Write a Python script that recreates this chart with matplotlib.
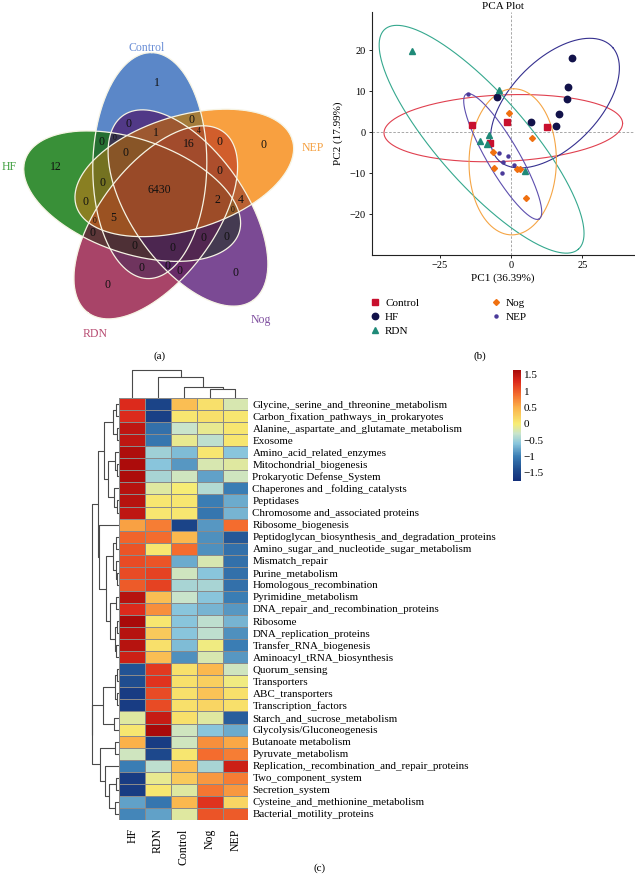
import numpy as np
import matplotlib
matplotlib.use('Agg')
import matplotlib.pyplot as plt
from matplotlib.colors import LinearSegmentedColormap, Normalize, to_rgb
from matplotlib.cm import ScalarMappable
from matplotlib.lines import Line2D

plt.rcParams['font.family'] = ['Liberation Serif', 'DejaVu Serif']
plt.rcParams['axes.unicode_minus'] = True

# ---------------- data ----------------
venn_sets = ['Control', 'HF', 'RDN', 'Nog', 'NEP']
venn_fill = ['#5b87c9', '#3a9038', '#a84468', '#7b4a95', '#f8a040']
venn_text_col = ['#6b8fd6', '#3f9f3f', '#b84c72', '#8050a0', '#f5a040']
venn_counts = {
    'Control': 1, 'HF': 12,
    'Control&HF&RDN&Nog&NEP': 6430,
    'Control&RDN&Nog&NEP': 16,
    'Control&HF&RDN&NEP': 5,
    'HF&RDN&Nog&NEP': 2,
    'Control&Nog&NEP': 1,
    'Control&RDN&NEP': 4,
    'Nog&NEP': 4,
}

groups = ['Control', 'HF', 'RDN', 'Nog', 'NEP']
ctrl_pc1 = [-13.8, -1.5, 12.5, -7.4]
ctrl_pc2 = [1.8, 2.4, 1.2, -2.7]
hf_pc1 = [21.3, 20.1, 19.5, 16.9, 15.7, 7.0, -5.0]
hf_pc2 = [18.0, 11.1, 8.1, 4.4, 1.5, 2.4, 8.5]
rdn_pc1 = [-34.8, -4.1, -7.6, -10.9, -8.5, 4.9]
rdn_pc2 = [19.7, 10.3, -0.7, -2.1, -2.8, -9.4]
nog_pc1 = [-0.6, 7.2, -6.4, -5.8, 2.2, 3.2, 5.1]
nog_pc2 = [4.8, -1.3, -4.7, -8.6, -8.9, -9.0, -15.9]
nep_pc1 = [-15.2, -4.2, -1.2, -2.7, 1.2, -3.3]
nep_pc2 = [9.3, -5.1, -5.7, -7.3, -8.0, -10.0]
# confidence ellipses: centre, two conjugate semi-axis vectors (data units)
ell_centre = {'Control': (-2.7, 1.0), 'HF': (15.4, 7.1), 'RDN': (-10.3, -1.7),
              'Nog': (0.6, -7.2), 'NEP': (-2.9, -5.9)}
ell_major = {'Control': (41.8, 1.2), 'HF': (20.3, 13.5), 'RDN': (33.9, -26.8),
             'Nog': (0.3, 17.8), 'NEP': (12.8, -15.2)}
ell_minor = {'Control': (-0.2, 8.1), 'HF': (9.9, -8.2), 'RDN': (11.8, 7.2),
             'Nog': (15.3, 0.0), 'NEP': (4.8, 2.0)}

pathways = [
    'Glycine,_serine_and_threonine_metabolism', 'Carbon_fixation_pathways_in_prokaryotes',
    'Alanine,_aspartate_and_glutamate_metabolism', 'Exosome', 'Amino_acid_related_enzymes',
    'Mitochondrial_biogenesis', 'Prokaryotic Defense_System', 'Chaperones and _folding_catalysts',
    'Peptidases', 'Chromosome and_associated proteins', 'Ribosome_biogenesis',
    'Peptidoglycan_biosynthesis_and_degradation_proteins',
    'Amino_sugar_and_nucleotide_sugar_metabolism', 'Mismatch_repair', 'Purine_metabolism',
    'Homologous_recombination', 'Pyrimidine_metabolism', 'DNA_repair_and_recombination_proteins',
    'Ribosome', 'DNA_replication_proteins', 'Transfer_RNA_biogenesis',
    'Aminoacyl_tRNA_biosynthesis', 'Quorum_sensing', 'Transporters', 'ABC_transporters',
    'Transcription_factors', 'Starch_and_sucrose_metabolism', 'Glycolysis/Gluconeogenesis',
    'Butanoate metabolism', 'Pyruvate_metabolism',
    'Replication,_recombination_and_repair_proteins', 'Two_component_system',
    'Secretion_system', 'Cysteine_and_methionine_metabolism', 'Bacterial_motility_proteins']
heat_cols = ['HF', 'RDN', 'Control', 'Nog', 'NEP']
hf_z = [1.30, 1.30, 1.50, 1.50, 1.60, 1.62, 1.62, 1.55, 1.55, 1.50, 0.60, 0.95, 1.05, 1.10,
        1.10, 1.00, 1.55, 1.30, 1.65, 1.55, 1.55, 1.40, -1.35, -1.40, -1.60, -1.60, -0.15,
        0.05, 0.50, -0.25, -1.00, -1.60, -1.60, -0.80, -0.95]
rdn_z = [-1.50, -1.55, -1.10, -1.05, -0.50, -0.60, -0.45, -0.15, 0.05, 0.05, 0.80, 0.90, 0.05,
         1.05, 1.15, 1.15, 0.40, 0.70, 0.05, 0.30, 0.10, 0.40, 1.20, 1.25, 1.10, 1.10, 1.45,
         1.65, -1.60, -1.45, -0.35, -0.10, 0.05, -1.05, -0.80]
ctrl_z = [0.40, 0.05, -0.30, -0.10, -0.65, -0.85, -0.25, 0.00, 0.05, 0.05, -1.50, 0.45, 0.90,
          -0.75, -0.25, -0.45, -0.30, -0.60, -0.60, -0.60, -0.65, -0.90, 0.10, 0.10, 0.10, 0.10,
          0.10, -0.25, -0.25, 0.05, 0.40, 0.30, -0.15, 0.45, -0.15]
nog_z = [0.10, 0.10, -0.10, -0.35, 0.05, -0.20, -0.80, -0.40, -1.00, -1.05, -0.85, -0.90, -0.90,
         -0.20, -0.60, -0.45, -0.60, -0.70, -0.35, -0.35, -0.05, -0.20, 0.45, 0.25, 0.35, 0.20,
         -0.15, -0.60, 0.70, 0.90, -0.45, 0.65, 0.85, 1.25, 1.05]
nep_z = [-0.20, 0.05, 0.05, 0.05, -0.60, -0.15, -0.25, -1.00, -0.75, -0.70, 0.90, -1.30, -1.10,
         -1.10, -1.10, -1.10, -1.00, -0.85, -0.70, -0.90, -1.00, -0.85, -0.25, -0.05, 0.10, 0.10,
         -1.25, -0.75, 0.55, 0.80, 1.40, 0.80, 0.65, 0.20, 1.00]
# dendrograms: (left, right, merge height); leaves are indices
row_tree = (
    ((((0, 1, 3.0), (2, 3, 2.5), 6.0),
      ((4, (5, 6, 2.5), 4.5), (7, (8, 9, 2.5), 5.5), 11.0), 15.0),
     (10, ((((11, 12, 3.0), (13, (14, 15, 2.0), 3.5), 6.0),
            ((16, 17, 3.5), ((18, 19, 2.5), (20, 21, 3.0), 4.0), 9.0), 13.0)), 20.0),
     21.3),
    ((((22, 23, 2.5), (24, 25, 2.0), 4.0), (26, 27, 5.0), 16.3),
     ((28, 29, 4.0), (30, ((31, 32, 3.0), (33, 34, 4.0), 10.0), 14.0), 19.7),
     27.0),
    27.3)
col_tree = (0, (1, (2, (3, 4, 9.0), 11.0), 21.0), 28.0)

# ---------------- figure ----------------
W, H = 635, 882
fig = plt.figure(figsize=(W / 100, H / 100), dpi=100)


def px_axes(x0, y0, x1, y1):
    return fig.add_axes([x0 / W, 1 - y1 / H, (x1 - x0) / W, (y1 - y0) / H])


# ---------- (a) Venn ----------
axv = px_axes(0, 0, 320, 360)
axv.set_xlim(0, 320)
axv.set_ylim(360, 0)
axv.axis('off')
O = np.array([162.0, 193.0])
set_dir = [90, 162, 234, 306, 18]
A_AX, B_AX, OFF, OFF_ANG = 113.0, 57.0, 30.0, 24.0
res = 2
vx0, vx1, vy0, vy1 = 0, 320, 20, 345
xs = np.arange(vx0, vx1, 1 / res) + 0.5 / res
ys = np.arange(vy0, vy1, 1 / res) + 0.5 / res
GX, GY = np.meshgrid(xs, ys)
code = np.zeros(GX.shape, int)
logt = np.zeros(GX.shape + (3,))
outlines = []
for i, th in enumerate(set_dir):
    ca = np.deg2rad(th + OFF_ANG)
    cx = O[0] + OFF * np.cos(ca)
    cy = O[1] - OFF * np.sin(ca)
    phi = np.deg2rad(th - 1)
    rx = GX - cx
    ry = -(GY - cy)
    lu = rx * np.cos(phi) + ry * np.sin(phi)
    lv = -rx * np.sin(phi) + ry * np.cos(phi)
    ins = (lu / A_AX) ** 2 + (lv / B_AX) ** 2 <= 1
    code |= ins.astype(int) << i
    lsingle = np.log(np.array(to_rgb(venn_fill[i])))
    logt = np.where(ins[..., None], lsingle + 0.4 * logt, logt)
    t = np.linspace(0, 2 * np.pi, 400)
    ex = cx + A_AX * np.cos(t) * np.cos(phi) - B_AX * np.sin(t) * np.sin(phi)
    ey = cy - (A_AX * np.cos(t) * np.sin(phi) + B_AX * np.sin(t) * np.cos(phi))
    outlines.append((ex, ey))
rgb = np.clip(np.exp(logt), 0, 1)
img = np.dstack([rgb, (code > 0).astype(float)])
axv.imshow(img, extent=(vx0, vx1, vy1, vy0), origin='upper', interpolation='antialiased',
           aspect='auto', zorder=1)
for ex, ey in outlines:
    axv.plot(ex, ey, color='#f6f4e4', lw=0.9, zorder=2)

# region label positions: deepest point of each region
lab = code
cur = lab > 0
depth = np.zeros(lab.shape, int)
same = np.ones(lab.shape, bool)
same[1:, :] &= lab[1:, :] == lab[:-1, :]
same[:-1, :] &= lab[:-1, :] == lab[1:, :]
same[:, 1:] &= lab[:, 1:] == lab[:, :-1]
same[:, :-1] &= lab[:, :-1] == lab[:, 1:]
same[0, :] = same[-1, :] = False
same[:, 0] = same[:, -1] = False
while cur.any():
    depth += cur
    nxt = cur & same
    nxt[1:, :] &= cur[:-1, :]
    nxt[:-1, :] &= cur[1:, :]
    nxt[:, 1:] &= cur[:, :-1]
    nxt[:, :-1] &= cur[:, 1:]
    cur = nxt
for c in range(1, 32):
    m = lab == c
    if not m.any():
        continue
    dmax = depth[m].max()
    sel = m & (depth == dmax)
    px, py = GX[sel], GY[sel]
    mx, my = px.mean(), py.mean()
    k = np.argmin((px - mx) ** 2 + (py - my) ** 2)
    key = '&'.join(venn_sets[j] for j in range(5) if (c >> j) & 1)
    val = venn_counts.get(key, 0)
    fs = 8.5 if dmax / res >= 5.5 else 5.5
    axv.text(px[k], py[k], str(val), ha='center', va='center', fontsize=fs,
             color='#111111', zorder=3)

cat_delta = [6, 8.5, 10.6, 2, -1.3]
cat_dist = [146, 155, 156, 161, 157]
for i, name in enumerate(venn_sets):
    a = np.deg2rad(set_dir[i] + cat_delta[i])
    axv.text(O[0] + cat_dist[i] * np.cos(a), O[1] - cat_dist[i] * np.sin(a), name,
             ha='center', va='center', fontsize=8.5, color=venn_text_col[i], zorder=3)
fig.text(160 / W, 1 - 356 / H, '(a)', ha='center', va='center', fontsize=8)

# ---------- (b) PCA ----------
axp = px_axes(372, 12, 634, 255)
axp.set_xlim(-48.7, 43.1)
axp.set_ylim(-29.9, 29.3)
axp.axhline(0, color='#9a9a9a', lw=0.6, ls=(0, (3, 2)), zorder=1)
axp.axvline(0, color='#9a9a9a', lw=0.6, ls=(0, (3, 2)), zorder=1)
ell_col = {'Control': '#e0404f', 'HF': '#35308f', 'RDN': '#35a88e', 'Nog': '#f5a545',
           'NEP': '#5d4fae'}
tt = np.linspace(0, 2 * np.pi, 400)
for g in groups:
    c = np.array(ell_centre[g]); u = np.array(ell_major[g]); v = np.array(ell_minor[g])
    pts = c[None, :] + np.cos(tt)[:, None] * u[None, :] + np.sin(tt)[:, None] * v[None, :]
    axp.plot(pts[:, 0], pts[:, 1], color=ell_col[g], lw=0.8, zorder=2)
pts_style = {
    'Control': (ctrl_pc1, ctrl_pc2, 's', '#c8102e', 4.2),
    'HF': (hf_pc1, hf_pc2, 'o', '#12124a', 4.6),
    'RDN': (rdn_pc1, rdn_pc2, '^', '#1f8a78', 5.0),
    'Nog': (nog_pc1, nog_pc2, 'D', '#f07010', 3.0),
    'NEP': (nep_pc1, nep_pc2, 'o', '#4a3a9a', 2.2),
}
handles = []
for g in groups:
    xv, yv, mk, col, ms = pts_style[g]
    axp.plot(xv, yv, ls='none', marker=mk, color=col, ms=ms, mec=col, zorder=3)
    handles.append(Line2D([], [], ls='none', marker=mk, color=col, ms=ms, mec=col, label=g))
for s in ['top', 'right']:
    axp.spines[s].set_visible(False)
for s in ['left', 'bottom']:
    axp.spines[s].set_linewidth(0.8)
    axp.spines[s].set_color('#222222')
axp.set_xticks([-25, 0, 25])
axp.set_yticks([-20, -10, 0, 10, 20])
axp.tick_params(labelsize=7.5, length=2.5, width=0.6, pad=2)
axp.set_xlabel('PC1 (36.39%)', fontsize=8, labelpad=2)
axp.set_ylabel('PC2 (17.99%)', fontsize=8, labelpad=5)
axp.set_title('PCA Plot', fontsize=8, pad=2)
fig.legend(handles=handles, loc='upper left', bbox_to_anchor=(369.5 / W, 1 - 298 / H),
           bbox_transform=fig.transFigure, ncol=2, frameon=False, fontsize=8,
           handlelength=1.0, handletextpad=0.4, columnspacing=6.4, labelspacing=0.4,
           borderpad=0, borderaxespad=0)
fig.text(480 / W, 1 - 356 / H, '(b)', ha='center', va='center', fontsize=8)

# ---------- (c) heatmap ----------
stops = [-1.75, -1.4, -1.0, -0.6, -0.3, 0.0, 0.5, 0.9, 1.3, 1.65]
scols = ['#132f7a', '#1f4d8f', '#3a7db4', '#8ac6dc', '#c8e4cc', '#f7ec74', '#fbb24a',
         '#f46d2e', '#dc2a1c', '#a80a0a']
vmin, vmax = stops[0], stops[-1]
cmap = LinearSegmentedColormap.from_list(
    'hm', [((s - vmin) / (vmax - vmin), c) for s, c in zip(stops, scols)])
norm = Normalize(vmin, vmax)
Z = np.column_stack([hf_z, rdn_z, ctrl_z, nog_z, nep_z])
nrow = len(pathways)

axh = px_axes(119.3, 398, 248.3, 820)
axh.pcolormesh(np.arange(6), np.arange(nrow + 1), Z, cmap=cmap, norm=norm,
               edgecolors='#8a8a8a', linewidth=0.5)
axh.set_xlim(0, 5)
axh.set_ylim(nrow, 0)
for s in axh.spines.values():
    s.set_visible(False)
axh.yaxis.tick_right()
axh.set_yticks(np.arange(nrow) + 0.5)
axh.set_yticklabels(pathways, fontsize=7.9)
axh.set_xticks(np.arange(5) + 0.5)
axh.set_xticklabels(heat_cols, rotation=90, fontsize=8.5)
axh.tick_params(length=0, pad=3)
axh.tick_params(axis='x', pad=6)


def dendro(node, leafpos, segs):
    if isinstance(node, int):
        return leafpos(node), 0.0
    l, r, h = node
    p1, h1 = dendro(l, leafpos, segs)
    p2, h2 = dendro(r, leafpos, segs)
    segs.append(([p1, p1, p2, p2], [h1, h, h, h2]))
    return (p1 + p2) / 2, h


axr = px_axes(88, 398, 119.3, 820)
segs = []
dendro(row_tree, lambda i: i + 0.5, segs)
for p, h in segs:
    axr.plot(h, p, color='#4a4a4a', lw=0.8, solid_capstyle='butt')
axr.set_ylim(nrow, 0)
axr.set_xlim(31.3, 0)
axr.axis('off')

axc = px_axes(119.3, 366, 248.3, 398)
segs = []
dendro(col_tree, lambda i: i + 0.5, segs)
for p, h in segs:
    axc.plot(p, h, color='#4a4a4a', lw=0.8, solid_capstyle='butt')
axc.set_xlim(0, 5)
axc.set_ylim(0, 32)
axc.axis('off')

cax = px_axes(513, 370, 521, 481)
cb = fig.colorbar(ScalarMappable(norm=norm, cmap=cmap), cax=cax,
                  ticks=[1.5, 1, 0.5, 0, -0.5, -1, -1.5])
cb.set_ticklabels(['1.5', '1', '0.5', '0', '\u22120.5', '\u22121', '\u22121.5'])
cb.outline.set_visible(False)
cax.tick_params(length=0, labelsize=8, pad=2)
fig.text(320 / W, 1 - 868 / H, '(c)', ha='center', va='center', fontsize=8)

fig.savefig('out.png', dpi=100)
